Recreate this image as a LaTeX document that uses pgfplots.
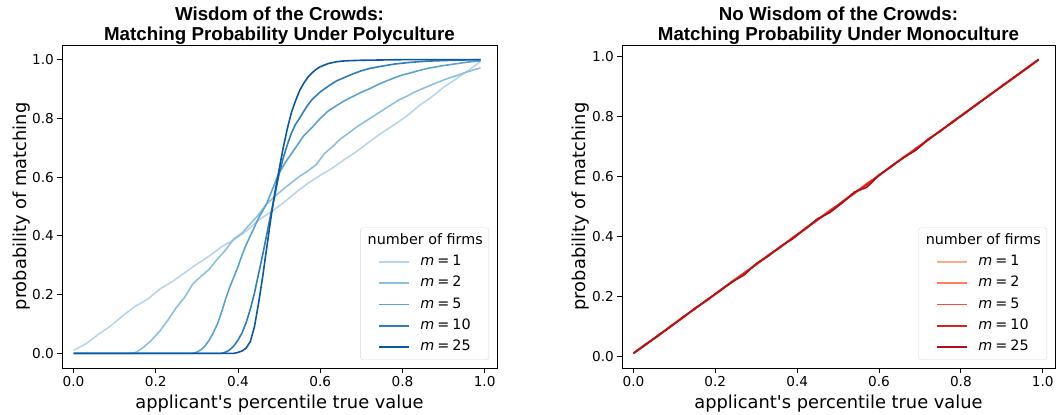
\documentclass[border=0pt]{standalone}
\usepackage{fontspec}
\setmainfont{DejaVu Sans}
\newfontfamily\titlefont{Liberation Sans}
\usepackage{pgfplots}
\pgfplotsset{compat=1.18}

\definecolor{b1}{HTML}{B8D5EA}
\definecolor{b2}{HTML}{8CC0DD}
\definecolor{b3}{HTML}{5AA2CF}
\definecolor{b4}{HTML}{2E7EBC}
\definecolor{b5}{HTML}{0D57A1}
\definecolor{r1}{HTML}{FCAB8E}
\definecolor{r2}{HTML}{FB7E5E}
\definecolor{r3}{HTML}{F44E38}
\definecolor{r4}{HTML}{D62221}
\definecolor{r5}{HTML}{AD1117}

\pgfplotsset{
  matchax/.style={
    scale only axis, height=323bp,
    xmin=-0.028, xmax=1.03,
    xtick={0,0.2,0.4,0.6,0.8,1}, ytick={0,0.2,0.4,0.6,0.8,1},
    xticklabel style={/pgf/number format/.cd, fixed, fixed zerofill, precision=1},
    yticklabel style={/pgf/number format/.cd, fixed, fixed zerofill, precision=1},
    /pgf/number format/assume math mode=true,
    tick label style={font=\fontsize{13.7}{16}\selectfont},
    tick align=outside, xtick pos=bottom, ytick pos=left,
    major tick length=4.7bp,
    every tick/.style={black, line width=0.9bp},
    axis line style={line width=0.9bp},
    no markers,
    every axis plot/.append style={line width=1.6bp, line join=round},
    xlabel={applicant\textquotesingle s percentile true value},
    ylabel={probability of matching},
    label style={font=\fontsize{17.9}{20}\selectfont},
    xlabel style={at={(axis description cs:0.5,-0.11)}, anchor=center},
    title style={font=\titlefont\bfseries\fontsize{18.8}{20.5}\selectfont,
      align=center, at={(axis description cs:0.5,1)}, anchor=south,
      inner sep=0pt, yshift=-6bp},
    legend style={at={(axis description cs:0.9816,0.0248)}, anchor=south east,
      draw=black!15, rounded corners=2.5bp, fill=white,
      font=\fontsize{14.4}{17}\selectfont,
      inner xsep=6bp, inner ysep=6bp, row sep=7.8bp, column sep=10.7bp,
      nodes={inner sep=0bp, text height=10.5bp, text depth=3bp, anchor=west}},
    legend cell align=left,
    legend image code/.code={\path (0bp,0bp); \draw[##1, line width=1.6bp] (11.7bp,0bp) -- (41.7bp,0bp);},
  }
}

\begin{document}
\begin{tikzpicture}
\path[use as bounding box] (0,0) rectangle (1056bp,415bp);

\begin{axis}[matchax, at={(62bp,47bp)}, anchor=south west, width=435bp,
  ymin=-0.05, ymax=1.05,
  ylabel style={at={(axis description cs:-0.092,0.5)}, anchor=center},
  title={Wisdom of the Crowds:\\Matching Probability Under Polyculture}]
\addlegendimage{empty legend}
\addlegendentry{\hspace{-52.7bp}number of firms}

\addplot[b1] coordinates {
 (0,0.010) (0.03,0.032) (0.06,0.064) (0.09,0.093) (0.12,0.128) (0.15,0.160)
 (0.18,0.184) (0.21,0.219) (0.24,0.244) (0.27,0.274) (0.30,0.304) (0.33,0.331)
 (0.36,0.363) (0.39,0.386) (0.42,0.416) (0.45,0.454) (0.48,0.481) (0.51,0.512)
 (0.54,0.547) (0.57,0.579) (0.60,0.606) (0.63,0.631) (0.66,0.661) (0.69,0.689)
 (0.72,0.721) (0.75,0.751) (0.78,0.779) (0.81,0.807) (0.84,0.843) (0.87,0.872)
 (0.90,0.906) (0.93,0.934) (0.96,0.963) (0.99,0.994)
};
\addlegendentry{\textit{m}\hspace{3bp}=\hspace{3bp}1}

\addplot[b2] coordinates {
 (0,0) (0.14,0) (0.15,0.002) (0.17,0.020) (0.19,0.045) (0.21,0.076)
 (0.23,0.114) (0.25,0.156) (0.27,0.190) (0.29,0.236) (0.31,0.262) (0.33,0.286)
 (0.35,0.321) (0.37,0.352) (0.39,0.390) (0.41,0.410) (0.43,0.441) (0.45,0.472)
 (0.47,0.509) (0.49,0.535) (0.51,0.559) (0.53,0.581) (0.55,0.603) (0.57,0.621)
 (0.59,0.642) (0.61,0.680) (0.63,0.704) (0.65,0.731) (0.67,0.751) (0.69,0.772)
 (0.71,0.790) (0.73,0.808) (0.75,0.826) (0.77,0.844) (0.79,0.862) (0.81,0.875)
 (0.83,0.890) (0.85,0.902) (0.87,0.914) (0.89,0.925) (0.91,0.936) (0.93,0.945)
 (0.95,0.955) (0.97,0.964) (0.99,0.972)
};
\addlegendentry{\textit{m}\hspace{3bp}=\hspace{3bp}2}

\addplot[b3] coordinates {
 (0,0) (0.29,0) (0.30,0.004) (0.31,0.012) (0.32,0.025) (0.33,0.045)
 (0.34,0.070) (0.35,0.100) (0.36,0.140) (0.37,0.185) (0.38,0.225) (0.39,0.260)
 (0.40,0.295) (0.41,0.335) (0.42,0.370) (0.43,0.400) (0.44,0.430) (0.45,0.460)
 (0.46,0.485) (0.47,0.510) (0.48,0.545) (0.49,0.580) (0.50,0.615) (0.52,0.660)
 (0.54,0.700) (0.56,0.741) (0.58,0.769) (0.60,0.800) (0.62,0.826) (0.64,0.844)
 (0.66,0.861) (0.68,0.875) (0.70,0.889) (0.72,0.901) (0.74,0.915) (0.76,0.927)
 (0.78,0.938) (0.80,0.948) (0.82,0.955) (0.84,0.963) (0.86,0.970) (0.88,0.975)
 (0.90,0.980) (0.93,0.986) (0.96,0.992) (0.99,0.996)
};
\addlegendentry{\textit{m}\hspace{3bp}=\hspace{3bp}5}

\addplot[b4] coordinates {
 (0,0) (0.36,0) (0.37,0.004) (0.38,0.012) (0.39,0.025) (0.40,0.045)
 (0.41,0.070) (0.42,0.105) (0.43,0.150) (0.44,0.205) (0.45,0.270) (0.46,0.335)
 (0.47,0.405) (0.48,0.475) (0.49,0.540) (0.50,0.610) (0.51,0.665) (0.52,0.710)
 (0.53,0.750) (0.54,0.780) (0.55,0.801) (0.56,0.824) (0.57,0.846) (0.58,0.864)
 (0.60,0.890) (0.62,0.910) (0.64,0.928) (0.66,0.940) (0.68,0.952) (0.70,0.962)
 (0.72,0.970) (0.75,0.978) (0.78,0.985) (0.82,0.991) (0.86,0.995) (0.90,0.997)
 (0.95,0.999) (0.99,1.000)
};
\addlegendentry{\textit{m}\hspace{3bp}=\hspace{3bp}10}

\addplot[b5] coordinates {
 (0,0) (0.39,0) (0.40,0.003) (0.41,0.008) (0.42,0.018) (0.43,0.040)
 (0.44,0.090) (0.45,0.170) (0.46,0.260) (0.47,0.360) (0.48,0.460) (0.49,0.550)
 (0.50,0.625) (0.51,0.700) (0.52,0.765) (0.53,0.820) (0.54,0.860) (0.55,0.895)
 (0.56,0.920) (0.57,0.940) (0.58,0.955) (0.59,0.967) (0.60,0.976) (0.62,0.987)
 (0.64,0.993) (0.66,0.996) (0.70,0.998) (0.75,0.999) (0.80,1.000) (0.99,1.000)
};
\addlegendentry{\textit{m}\hspace{3bp}=\hspace{3bp}25}
\end{axis}

\begin{axis}[matchax, at={(622bp,47bp)}, anchor=south west, width=433bp,
  ymin=-0.039, ymax=1.039,
  ylabel style={at={(axis description cs:-0.0947,0.5)}, anchor=center},
  title={No Wisdom of the Crowds:\\Matching Probability Under Monoculture}]
\addlegendimage{empty legend}
\addlegendentry{\hspace{-52.7bp}number of firms}

\addplot[r1] coordinates {
 (0,0.010) (0.03,0.042) (0.06,0.067) (0.09,0.102) (0.12,0.128) (0.15,0.161)
 (0.18,0.185) (0.21,0.220) (0.24,0.249) (0.27,0.275) (0.30,0.310) (0.33,0.336)
 (0.36,0.368) (0.39,0.394) (0.42,0.427) (0.45,0.458) (0.48,0.481) (0.51,0.517)
 (0.54,0.544) (0.57,0.578) (0.60,0.602) (0.63,0.635) (0.66,0.666) (0.69,0.691)
 (0.72,0.725) (0.75,0.751) (0.78,0.785) (0.81,0.810) (0.84,0.843) (0.87,0.873)
 (0.90,0.899) (0.93,0.932) (0.96,0.962) (0.99,0.990)
};
\addlegendentry{\textit{m}\hspace{3bp}=\hspace{3bp}1}

\addplot[r2] coordinates {
 (0,0.010) (0.03,0.039) (0.06,0.071) (0.09,0.097) (0.12,0.131) (0.15,0.157)
 (0.18,0.190) (0.21,0.216) (0.24,0.250) (0.27,0.279) (0.30,0.305) (0.33,0.339)
 (0.36,0.364) (0.39,0.398) (0.42,0.424) (0.45,0.457) (0.48,0.487) (0.51,0.512)
 (0.54,0.548) (0.57,0.571) (0.60,0.606) (0.63,0.632) (0.66,0.665) (0.69,0.690)
 (0.72,0.726) (0.75,0.750) (0.78,0.784) (0.81,0.814) (0.84,0.840) (0.87,0.874)
 (0.90,0.900) (0.93,0.929) (0.96,0.962) (0.99,0.991)
};
\addlegendentry{\textit{m}\hspace{3bp}=\hspace{3bp}2}

\addplot[r3] coordinates {
 (0,0.011) (0.03,0.041) (0.06,0.068) (0.09,0.100) (0.12,0.127) (0.15,0.160)
 (0.18,0.187) (0.21,0.219) (0.24,0.246) (0.27,0.278) (0.30,0.306) (0.33,0.336)
 (0.36,0.367) (0.39,0.395) (0.42,0.428) (0.45,0.454) (0.48,0.488) (0.51,0.514)
 (0.54,0.543) (0.57,0.576) (0.60,0.603) (0.63,0.636) (0.66,0.662) (0.69,0.695)
 (0.72,0.721) (0.75,0.754) (0.78,0.780) (0.81,0.813) (0.84,0.844) (0.87,0.870)
 (0.90,0.903) (0.93,0.930) (0.96,0.959) (0.99,0.990)
};
\addlegendentry{\textit{m}\hspace{3bp}=\hspace{3bp}5}

\addplot[r4] coordinates {
 (0,0.010) (0.03,0.038) (0.06,0.070) (0.09,0.098) (0.12,0.130) (0.15,0.158)
 (0.18,0.189) (0.21,0.217) (0.24,0.247) (0.27,0.276) (0.30,0.308) (0.33,0.338)
 (0.36,0.365) (0.39,0.397) (0.42,0.425) (0.45,0.456) (0.48,0.484) (0.51,0.516)
 (0.54,0.546) (0.57,0.573) (0.60,0.605) (0.63,0.633) (0.66,0.664) (0.69,0.692)
 (0.72,0.724) (0.75,0.753) (0.78,0.783) (0.81,0.811) (0.84,0.841) (0.87,0.872)
 (0.90,0.902) (0.93,0.932) (0.96,0.961) (0.99,0.991)
};
\addlegendentry{\textit{m}\hspace{3bp}=\hspace{3bp}10}

\addplot[r5] coordinates {
 (0,0.010) (0.03,0.040) (0.06,0.068) (0.09,0.099) (0.12,0.129) (0.15,0.160)
 (0.18,0.188) (0.21,0.218) (0.24,0.248) (0.27,0.271) (0.30,0.309) (0.33,0.335)
 (0.36,0.367) (0.39,0.393) (0.42,0.426) (0.45,0.459) (0.48,0.480) (0.51,0.512)
 (0.54,0.548) (0.57,0.564) (0.60,0.604) (0.63,0.634) (0.66,0.663) (0.69,0.688)
 (0.72,0.723) (0.75,0.752) (0.78,0.782) (0.81,0.812) (0.84,0.842) (0.87,0.871)
 (0.90,0.901) (0.93,0.931) (0.96,0.960) (0.99,0.990)
};
\addlegendentry{\textit{m}\hspace{3bp}=\hspace{3bp}25}
\end{axis}
\end{tikzpicture}
\end{document}
